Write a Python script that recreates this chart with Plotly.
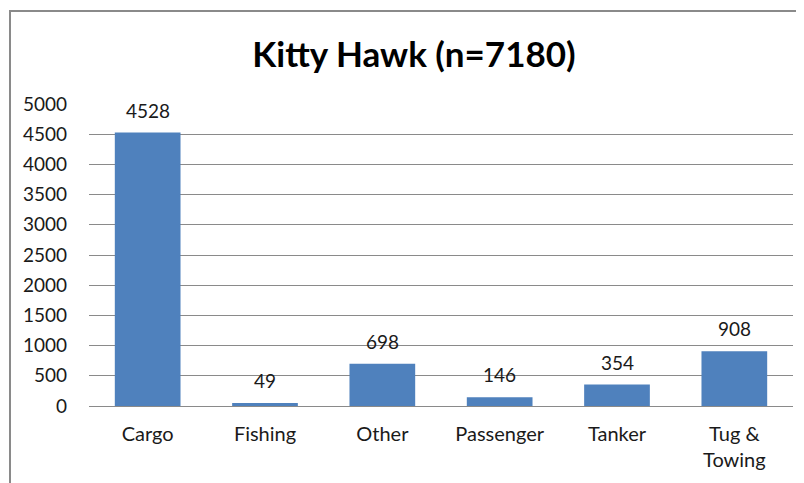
import plotly.graph_objects as go

categories = ["Cargo", "Fishing", "Other", "Passenger", "Tanker", "Tug &<br>Towing"]
values = [4528, 49, 698, 146, 354, 908]
title = "Kitty Hawk (n=7180)"

# page offset of the figure inside the browser (body margin)
OFF = 8
W, H = 804, 483
ml, mt = 89 - OFF, 104 - OFF
pw = 793 - 89
ph = 406 - 104
mr = W - ml - pw
mb = H - mt - ph

FONT = "Lato, Open Sans, sans-serif"

fig = go.Figure(go.Bar(
    x=categories, y=values,
    marker=dict(color="#4F81BD", line=dict(width=0)),
    width=0.56,
))

for c, v in zip(categories, values):
    fig.add_annotation(x=c, y=v, text=str(v), showarrow=False,
                       yanchor="bottom", yshift=9,
                       font=dict(family=FONT, size=19, color="#1a1a1a"))

fig.update_layout(
    width=W, height=H,
    margin=dict(l=ml, r=mr, t=mt, b=mb),
    paper_bgcolor="white", plot_bgcolor="white",
    title=dict(text="<b>" + title + "</b>", x=(414 - OFF) / W, xanchor="center",
               y=1 - (55 - OFF) / H, yanchor="middle",
               font=dict(family=FONT, size=35, color="black")),
    font=dict(family=FONT, size=19, color="#1a1a1a"),
    showlegend=False,
)
fig.update_yaxes(range=[0, 5000], dtick=500, showgrid=True, gridcolor="#8a8a8a", gridwidth=1,
                 zeroline=False, showline=False, ticks="", ticklen=0,
                 ticklabelstandoff=21,
                 tickfont=dict(family=FONT, size=19, color="#1a1a1a"))
fig.update_xaxes(showline=True, linecolor="#8a8a8a", linewidth=1, ticks="",
                 ticklabelstandoff=10,
                 tickfont=dict(family=FONT, size=20, color="#1a1a1a"))

# outer chart border (left and top visible; right/bottom beyond the frame)
fig.add_shape(type="rect", xref="paper", yref="paper",
              x0=(10 - 89) / pw, x1=(W + 30 - 89) / pw,
              y0=-(H + 30 - 406) / ph, y1=1 + (104 - 11) / ph,
              line=dict(color="#8a8a8a", width=2), fillcolor="rgba(0,0,0,0)", layer="above")

fig.write_html("out.html")
